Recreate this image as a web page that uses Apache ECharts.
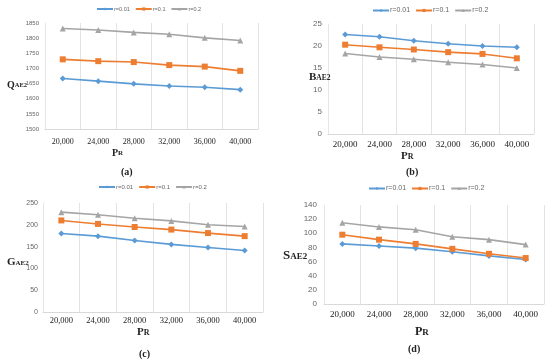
<!DOCTYPE html>
<html><head><meta charset="utf-8">
<script src="https://cdn.jsdelivr.net/npm/echarts@6/dist/echarts.min.js"></script>
<style>html,body{margin:0;padding:0;background:#fff}#c{width:550px;height:362px}</style>
</head><body><div id="c"></div>
<script>
const categories = ['20,000','24,000','28,000','32,000','36,000','40,000'];
const seriesNames = ['r=0.01','r=0.1','r=0.2'];
// (a) QAE2
const qR001 = [1667,1658,1649,1642,1638,1630];
const qR01  = [1730,1724,1721,1711,1706,1692];
const qR02  = [1832,1827,1819,1813,1801,1792];
// (b) BAE2
const bR001 = [22.6,22.1,21.2,20.5,20.0,19.7];
const bR01  = [20.3,19.7,19.2,18.6,18.2,17.2];
const bR02  = [18.3,17.5,17.0,16.3,15.8,15.0];
// (c) GAE2
const gR001 = [180,174,164,155,148,141];
const gR01  = [210,202,195,189,181,174];
const gR02  = [229,223,215,209,200,196];
// (d) SAE2
const sR001 = [85,82,79,74,68,63];
const sR01  = [98,91,85,78,71,65];
const sR02  = [115,109,105,95,91,84];
const yTicks = [
  {min:1500,max:1850,interval:50},
  {min:0,max:25,interval:5},
  {min:0,max:250,interval:50},
  {min:0,max:140,interval:20}
];

const colors = ['#5B9BD5','#ED7D31','#A5A5A5'];
const symbols = ['diamond','rect','triangle'];
const panels = [
  {grid:{left:45,top:23,width:213,height:106}, data:[qR001,qR01,qR02], yFs:6, xFs:8, xMargin:9, yMargin:6,
   legend:{x:96,y:6,fs:5.5}, yname:{t:'Q',x:7,y:78,b:10,s:6.5}, xname:{x:112,y:146,fs:10}, lab:{t:'(a)',x:121,y:167}},
  {grid:{left:328,top:24,width:206,height:110}, data:[bR001,bR01,bR02], yFs:8, xFs:9, xMargin:6, yMargin:6,
   legend:{x:372,y:7,fs:7}, yname:{t:'B',x:309,y:70,b:11,s:7.5}, xname:{x:401,y:149,fs:11}, lab:{t:'(b)',x:406,y:167}},
  {grid:{left:43,top:203,width:220,height:109}, data:[gR001,gR01,gR02], yFs:7, xFs:8.5, xMargin:4, yMargin:5,
   legend:{x:98,y:184,fs:6}, yname:{t:'G',x:7,y:255,b:11,s:7}, xname:{x:137,y:325,fs:11}, lab:{t:'(c)',x:139,y:349}},
  {grid:{left:324,top:205,width:220,height:99}, data:[sR001,sR01,sR02], yFs:8, xFs:9, xMargin:6, yMargin:7,
   legend:{x:368,y:185,fs:7}, yname:{t:'S',x:283,y:247,b:13,s:9}, xname:{x:415,y:324,fs:12}, lab:{t:'(d)',x:408,y:344}}
];

const option = {
  animation:false,
  backgroundColor:'#fff',
  grid:[], xAxis:[], yAxis:[], series:[], legend:[], title:[]
};
panels.forEach((p,i)=>{
  option.grid.push(Object.assign({containLabel:false}, p.grid));
  option.xAxis.push({type:'category', gridIndex:i, data:categories, boundaryGap:true,
    axisLine:{show:true,lineStyle:{color:'#d9d9d9'}}, axisTick:{show:false},
    axisLabel:{fontFamily:'Liberation Serif', fontSize:p.xFs, color:'#222', margin:p.xMargin, interval:0},
    splitLine:{show:true,lineStyle:{color:'#e3e3e3',width:1}}});
  option.yAxis.push(Object.assign({type:'value', gridIndex:i,
    axisLine:{show:true,lineStyle:{color:'#e6e6e6'}}, axisTick:{show:false},
    axisLabel:{fontFamily:'Liberation Sans', fontSize:p.yFs, color:'#666', margin:p.yMargin,
      formatter:v=>String(v)},
    splitLine:{show:false}}, yTicks[i]));
  seriesNames.forEach((n,k)=>{
    option.series.push({type:'line', name:n, xAxisIndex:i, yAxisIndex:i, data:p.data[k],
      symbol:symbols[k], symbolSize:6, color:colors[k],
      lineStyle:{width:1.6,color:colors[k]}, itemStyle:{color:colors[k]}});
  });
  option.legend.push({data:seriesNames, left:p.legend.x, top:p.legend.y, width:240, padding:0,
    itemWidth:16, itemHeight:4, itemGap:5,
    textStyle:{fontSize:p.legend.fs,color:'#666',fontFamily:'Liberation Sans',padding:[0,0,0,-4]}});
  const lh = p.yname.b + 2;
  option.title.push({text:'{a|'+p.yname.t+'}{b|AE2}', left:p.yname.x, top:p.yname.y, padding:0,
    textStyle:{lineHeight:lh, rich:{
      a:{fontFamily:'Liberation Serif',fontSize:p.yname.b,color:'#222',lineHeight:lh,verticalAlign:'bottom'},
      b:{fontFamily:'Liberation Serif',fontSize:p.yname.s,color:'#222',lineHeight:lh,verticalAlign:'bottom',padding:[0,0,Math.round(p.yname.b*0.08),0]}}}});
  const xl = p.xname.fs + 2;
  option.title.push({text:'{a|P}{b|R}', left:p.xname.x, top:p.xname.y, padding:0,
    textStyle:{lineHeight:xl, rich:{
      a:{fontFamily:'Liberation Serif',fontSize:p.xname.fs,color:'#222',lineHeight:xl,verticalAlign:'bottom'},
      b:{fontFamily:'Liberation Serif',fontSize:p.xname.fs-3,color:'#222',lineHeight:xl,verticalAlign:'bottom',padding:[0,0,1,0]}}}});
  option.title.push({text:p.lab.t, left:p.lab.x, top:p.lab.y, padding:0,
    textStyle:{fontFamily:'Liberation Serif',fontSize:10,fontWeight:'bold',color:'#222'}});
});
echarts.init(document.getElementById('c'),null,{renderer:'canvas'}).setOption(option);
</script></body></html>
